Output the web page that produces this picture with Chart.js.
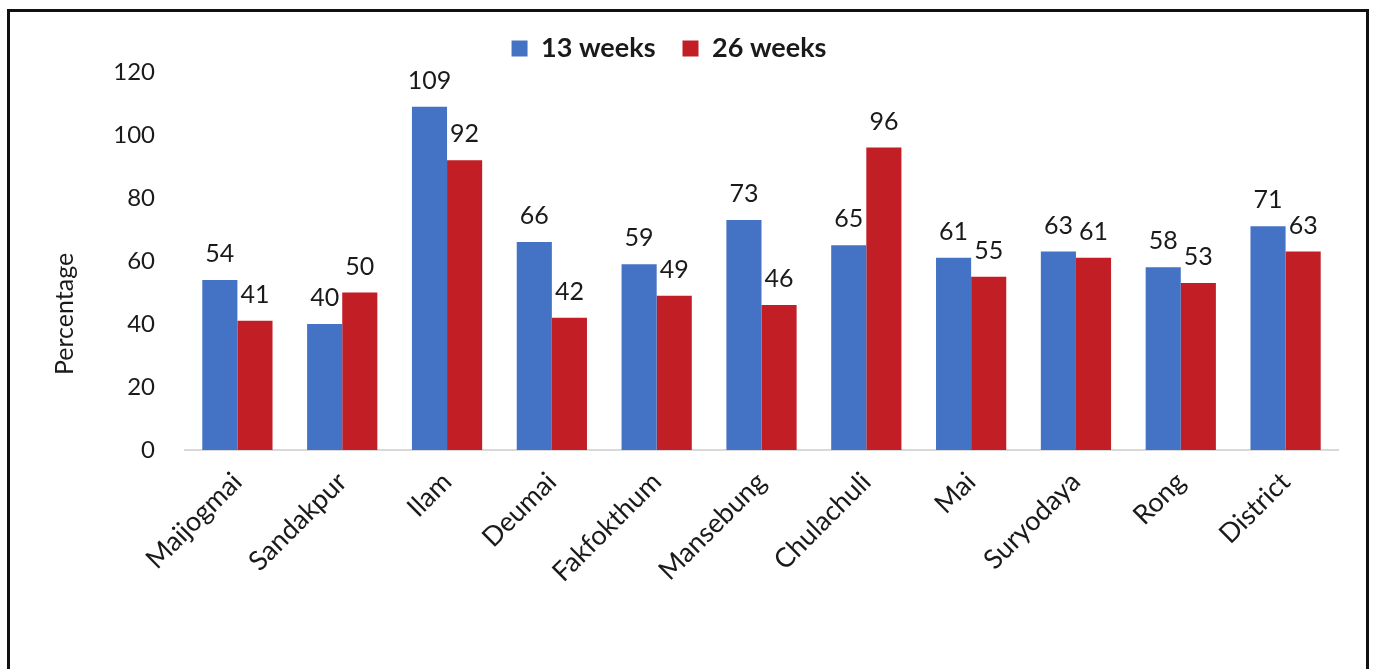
<!DOCTYPE html>
<html lang="en">
<head>
  <meta charset="UTF-8">
  <title>Percentage by municipality</title>
  <style>
    * { margin: 0; padding: 0; box-sizing: border-box; }
    body { width: 1375px; height: 669px; background: #fff; overflow: hidden; position: relative; }
    .frame {
      position: absolute;
      left: 7px; top: 9px;
      width: 1362px; height: 700px;
      border: 3px solid #111;
      pointer-events: none;
    }
    .chart-box { position: absolute; left: 0; top: 0; width: 1375px; height: 669px; }
  </style>
</head>
<body>
<div class="chart-box"><canvas id="chart"></canvas></div>
<div class="frame"></div>

<script src="https://cdn.jsdelivr.net/npm/chart.js"></script>
<script>
  const categories = ['Maijogmai', 'Sandakpur', 'Ilam', 'Deumai', 'Fakfokthum', 'Mansebung',
                      'Chulachuli', 'Mai', 'Suryodaya', 'Rong', 'District'];
  const weeks13 = [54, 40, 109, 66, 59, 73, 65, 61, 63, 58, 71];
  const weeks26 = [41, 50, 92, 42, 49, 46, 96, 55, 61, 53, 63];
  const yTicks = [0, 20, 40, 60, 80, 100, 120];

  const FONT = 'Lato, "Open Sans", sans-serif';

  // values printed above each bar
  const barLabels = {
    id: 'barLabels',
    afterDatasetsDraw(chart) {
      const ctx = chart.ctx;
      ctx.save();
      ctx.font = '25px ' + FONT;
      ctx.fillStyle = '#1a1a1a';
      ctx.textAlign = 'center';
      ctx.textBaseline = 'alphabetic';
      chart.data.datasets.forEach((ds, i) => {
        chart.getDatasetMeta(i).data.forEach((bar, j) => {
          ctx.fillText(ds.data[j], bar.x, bar.y - 18);
        });
      });
      ctx.restore();
    }
  };

  // y axis title, sits lower than the plot middle like the original
  const yTitle = {
    id: 'yTitle',
    afterDraw(chart) {
      const a = chart.chartArea;
      const ctx = chart.ctx;
      ctx.save();
      ctx.translate(a.left - 120, a.top + (a.bottom - a.top) * 0.64);
      ctx.rotate(-Math.PI / 2);
      ctx.font = '25px ' + FONT;
      ctx.fillStyle = '#1a1a1a';
      ctx.textAlign = 'center';
      ctx.textBaseline = 'middle';
      ctx.fillText('Percentage', 0, 0);
      ctx.restore();
    }
  };

  new Chart(document.getElementById('chart'), {
    type: 'bar',
    data: {
      labels: categories,
      datasets: [
        { label: '13 weeks', data: weeks13, backgroundColor: '#4472C4' },
        { label: '26 weeks', data: weeks26, backgroundColor: '#C21E25' }
      ]
    },
    options: {
      responsive: true,
      maintainAspectRatio: false,
      animation: false,
      datasets: { bar: { categoryPercentage: 0.67, barPercentage: 1 } },
      layout: { padding: { top: 8, left: 0, right: 37, bottom: 0 } },
      plugins: {
        legend: {
          position: 'top',
          labels: {
            color: '#1a1a1a',
            font: { family: FONT, size: 27, weight: 'bold' },
            boxWidth: 16,
            boxHeight: 16,
            padding: 27
          }
        },
        tooltip: { enabled: false }
      },
      scales: {
        x: {
          grid: { display: false },
          border: { color: '#d9d9d9', width: 2 },
          ticks: {
            color: '#1a1a1a',
            font: { family: FONT, size: 27 },
            minRotation: 45,
            maxRotation: 45,
            padding: 8
          },
          afterFit(scale) { scale.height = 219; }
        },
        y: {
          min: 0,
          max: 120,
          grid: { display: false, drawTicks: false },
          border: { display: false },
          afterBuildTicks(scale) { scale.ticks = yTicks.map(v => ({ value: v })); },
          ticks: {
            color: '#1a1a1a',
            font: { family: FONT, size: 24 },
            padding: 30
          },
          afterFit(scale) { scale.width = 185; }
        }
      }
    },
    plugins: [barLabels, yTitle]
  });
</script>
</body>
</html>
